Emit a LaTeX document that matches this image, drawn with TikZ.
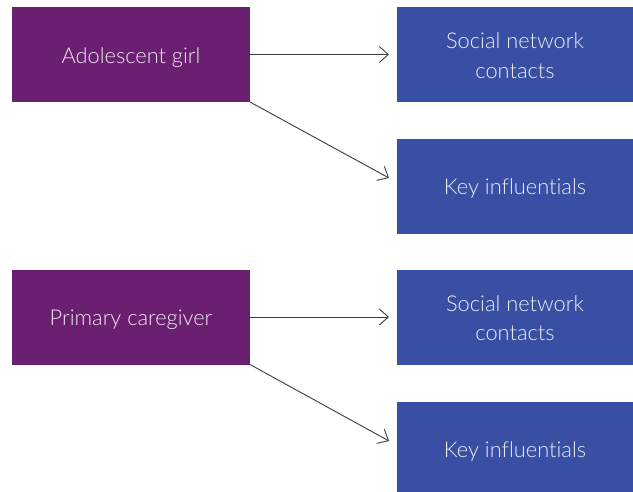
\documentclass[tikz,border=0pt]{standalone}
\usepackage{fontspec}
\setmainfont{Lato}[UprightFont={* Light},Ligatures={NoCommon}]
\usetikzlibrary{arrows.meta}
\definecolor{boxpurple}{RGB}{107,31,112}
\definecolor{boxblue}{RGB}{57,79,163}
\definecolor{arrowgrey}{RGB}{60,60,60}
\newcommand{\lowertext}[1]{\raisebox{-3pt}[\height][\depth]{\begin{tabular}{@{}c@{}}#1\end{tabular}}}
\tikzset{
  basebox/.style={rectangle, inner sep=0pt, outer sep=0pt, text=white, text opacity=0.9,
    align=center, font=\fontsize{21.8}{29.5}\selectfont},
  pbox/.style={basebox, fill=boxpurple, minimum width=238pt, minimum height=95pt},
  bbox/.style={basebox, fill=boxblue, minimum width=236pt, minimum height=95pt},
  conn/.style={draw=arrowgrey, line width=0.9pt, -{Straight Barb[length=9pt,width=16pt,line width=0.9pt]}}
}
\begin{document}
\begin{tikzpicture}[x=1pt,y=-1pt]
\useasboundingbox (0,0) rectangle (633,491);
\node[pbox] (ag) at (131,54.5) {\lowertext{Adolescent girl}};
\node[bbox] (sn1) at (515,54.5) {\lowertext{Social network\\contacts}};
\node[bbox] (ki1) at (515,186) {\lowertext{Key influentials}};
\node[pbox] (pc) at (131,317) {\lowertext{Primary caregiver}};
\node[bbox] (sn2) at (515,317) {\lowertext{Social network\\contacts}};
\node[bbox] (ki2) at (515,449) {\lowertext{Key influentials}};
\draw[conn] (ag.east) -- ([xshift=-8pt]sn1.west);
\draw[conn] (ag.south east) -- ([xshift=-8pt,yshift=8pt]ki1.west);
\draw[conn] (pc.east) -- ([xshift=-8pt]sn2.west);
\draw[conn] (pc.south east) -- ([xshift=-8pt,yshift=8pt]ki2.west);
\end{tikzpicture}
\end{document}
